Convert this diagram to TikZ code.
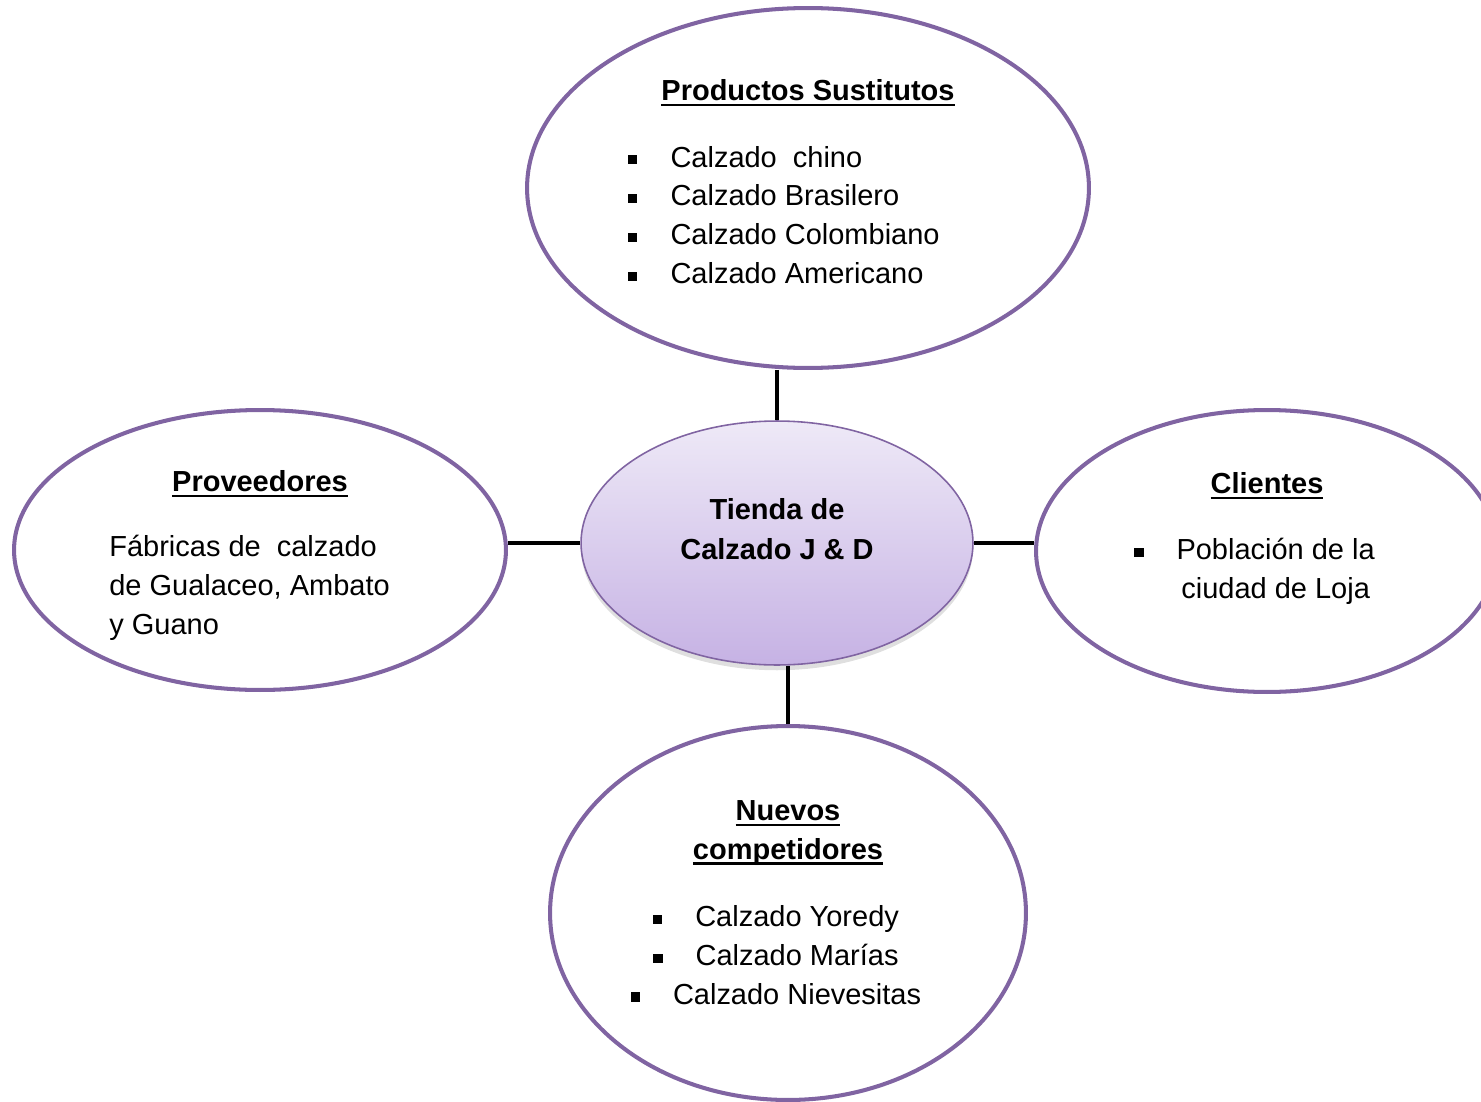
\documentclass[tikz,border=0pt]{standalone}
\usepackage{fontspec}
\setmainfont{Liberation Sans}
\usepackage{xcolor}
\definecolor{plum}{RGB}{128,100,162}
\definecolor{lilac}{RGB}{238,233,247}
\definecolor{mauve}{RGB}{198,178,228}
\usetikzlibrary{shapes.geometric,shadows,positioning}
\newcommand{\bul}{\makebox[24pt][l]{\rule[1.5pt]{5.2pt}{5.2pt}}}
\newcommand{\encab}[1]{\textbf{\sbox0{#1}\rlap{\rule[-3pt]{\wd0}{1.3pt}}\usebox0}}
\tikzset{
  bubble/.style={ellipse, draw=plum, line width=2.3pt, inner sep=0pt},
  hub/.style={ellipse, draw=plum, line width=0.9pt, inner sep=0pt,
              top color=lilac, bottom color=mauve,
              drop shadow={opacity=0.25, shadow xshift=0pt, shadow yshift=-3pt}},
  txt/.style={inner sep=0pt, font=\fontsize{16.5}{22.1}\selectfont},
  link/.style={draw=black, line width=2.6pt},
}

\begin{document}
\begin{tikzpicture}[x=0.02cm, y=-0.02cm]
\useasboundingbox (0,0) rectangle (1481,1102);

\node[bubble, minimum width=11.24cm, minimum height=7.2cm] (sust) at (808,188) {};
\node[bubble, minimum width=9.84cm, minimum height=5.6cm] (prov) at (260,550) {};
\node[bubble, minimum width=9.24cm, minimum height=5.64cm] (clie) at (1267,551) {};
\node[bubble, minimum width=9.52cm, minimum height=7.48cm] (nuev) at (788,913) {};
\node[hub, minimum width=7.84cm, minimum height=4.88cm] (tienda) at (777,543) {};

\draw[link] (tienda.north) -- (tienda.north |- sust.south);
\draw[link] (tienda.west) -- (tienda.west -| prov.east);
\draw[link] (tienda.east) -- (tienda.east -| clie.west);
\draw[link] (nuev.north) -- (nuev.north |- tienda.south);

\node[txt, font=\fontsize{16.5}{22.1}\selectfont\bfseries, align=center] (tienda-t) at (777,529)
  {Tienda de\\[1pt] Calzado J \& D};

\node[txt] (sust-t) at (808,93) {\encab{Productos Sustitutos}};
\node[txt, align=left, anchor=west] (sust-l) at (628,215)
  {\bul Calzado\ \ chino\\ \bul Calzado Brasilero\\ \bul Calzado Colombiano\\ \bul Calzado Americano};

\node[txt] (prov-t) at (260,484) {\encab{Proveedores}};
\node[txt, align=left, anchor=west] (prov-l) at (109,588)
  {Fábricas de\ \ calzado\\ de Gualaceo, Ambato\\ y Guano};

\node[txt] (clie-t) at (1267,486) {\encab{Clientes}};
\node[txt, anchor=west] (clie-l) at (1134,571)
  {\begin{tabular}{@{}l@{}c@{}}\bul & Población de la\\ & ciudad de Loja\end{tabular}};

\node[txt, align=center] (nuev-t) at (788,833) {\encab{Nuevos}\\ \encab{competidores}};
\node[txt, align=center] (nuev-l) at (776,955)
  {\bul Calzado Yoredy\\ \bul Calzado Marías\\ \bul Calzado Nievesitas};
\end{tikzpicture}
\end{document}
